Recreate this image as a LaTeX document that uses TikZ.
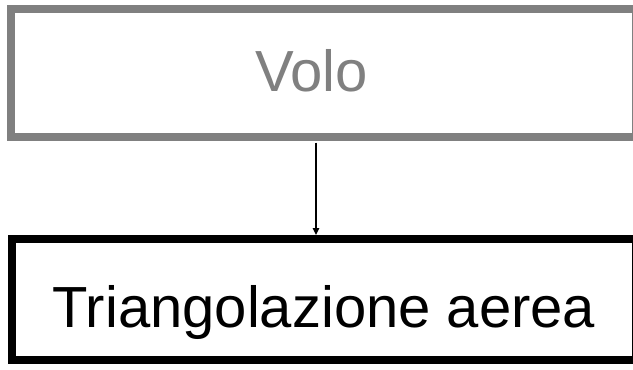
\documentclass[tikz,border=0pt]{standalone}
\usepackage{fontspec}
\setmainfont{Liberation Sans}
\usetikzlibrary{arrows.meta}
\definecolor{framegray}{HTML}{808080}
\begin{document}
\begin{tikzpicture}[x=1pt,y=-1pt,
  boxstyle/.style={draw, line width=8pt, inner sep=0pt, fill=white},
  labelstyle/.style={inner sep=0pt, anchor=base, font=\fontsize{58}{70}\selectfont},
  link/.style={line width=1.4pt, -{Triangle[length=7pt,width=6.5pt]}}]
  \useasboundingbox (0,0) rectangle (633,370);
  % upper stage
  \node[boxstyle, draw=framegray, minimum width=625pt, minimum height=128pt] (volo) at (323.5,72.5) {};
  \node[labelstyle, text=framegray] (volotext) at (311.5,91) {Volo};
  % lower stage
  \node[boxstyle, draw=black, minimum width=624pt, minimum height=121pt] (tri) at (324,299.5) {};
  \node[labelstyle, text=black] (tritext) at (324,327) {Triangolazione aerea};
  % connector
  \coordinate (axis) at (316,0);
  \draw[link] ([yshift=-2pt]volo.south -| axis) -- (tri.north -| axis);
\end{tikzpicture}
\end{document}
